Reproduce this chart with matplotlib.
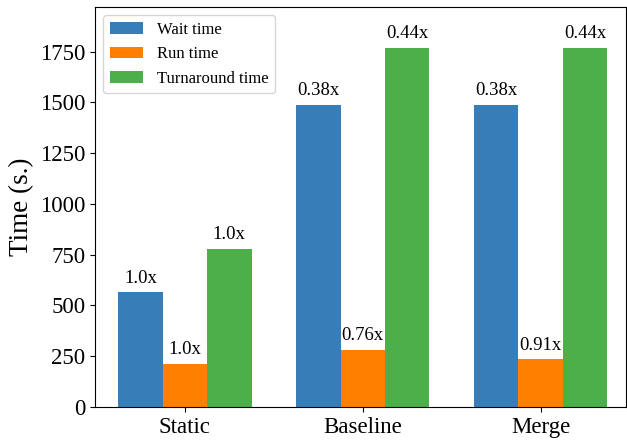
import matplotlib
matplotlib.use("Agg")
import matplotlib.pyplot as plt
import numpy as np

plt.rcParams["font.family"] = ["Liberation Serif", "DejaVu Serif"]

# Mean times per scheduling policy (seconds)
policies = ["Static", "Baseline", "Merge"]
wait_time = [565, 1488, 1488]
run_time = [213, 281, 235]
turnaround_time = [779, 1769, 1769]

series = [("Wait time", wait_time, "#377eb8"),
          ("Run time", run_time, "#ff7f00"),
          ("Turnaround time", turnaround_time, "#4daf4a")]

fig = plt.figure(figsize=(6.27, 4.4), dpi=100)
ax = fig.add_axes([0.1515, 0.075, 0.847, 0.909])

x = np.arange(len(policies))
w = 0.25
for k, (name, vals, color) in enumerate(series):
    pos = x + (k - 1) * w
    ax.bar(pos, vals, w, label=name, color=color)
    # speedup of Static over each policy
    for p, v in zip(pos, vals):
        ratio = vals[0] / v
        txt = "1.0x" if v == vals[0] else f"{ratio:.2f}x"
        ax.annotate(txt, (p, v), textcoords="offset points", xytext=(0, 4),
                    ha="center", va="bottom", fontsize=13.5)

ax.set_xticks(x)
ax.set_xticklabels(policies)
ax.tick_params(labelsize=16.5)
ax.set_ylabel("Time (s.)", fontsize=19.5)
ax.set_xlim(-0.505, 2.48)
ax.set_ylim(0, 1970)
ax.legend(loc="upper left", fontsize=12, handlelength=2.0)

fig.savefig("out.png", dpi=100)
